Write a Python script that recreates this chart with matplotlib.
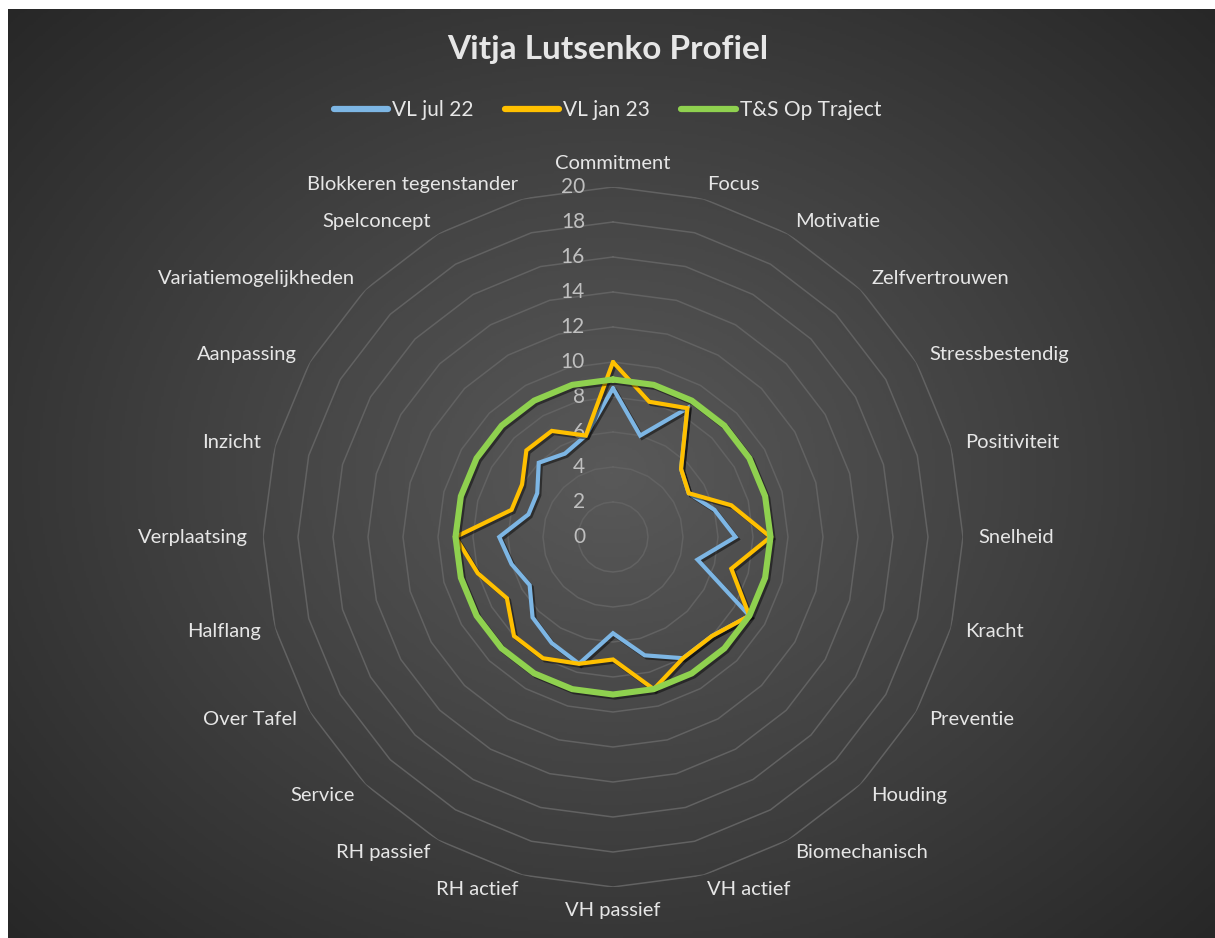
import numpy as np
import matplotlib
matplotlib.use('Agg')
import matplotlib.pyplot as plt
import matplotlib.patheffects as pe
from matplotlib.transforms import offset_copy

plt.rcParams['font.family'] = ['Lato', 'DejaVu Sans']

categories = ['Commitment', 'Focus', 'Motivatie', 'Zelfvertrouwen', 'Stressbestendig',
              'Positiviteit', 'Snelheid', 'Kracht', 'Preventie', 'Houding', 'Biomechanisch',
              'VH actief', 'VH passief', 'RH actief', 'RH passief', 'Service', 'Over Tafel',
              'Halflang', 'Verplaatsing', 'Inzicht', 'Aanpassing', 'Variatiemogelijkheden',
              'Spelconcept', 'Blokkeren tegenstander']

vl_jul_22 = [8.5, 6, 8.5, 5.5, 5, 6, 7, 5, 9, 8, 8, 7,
             5.5, 7.5, 7, 6.5, 5.5, 6, 6.5, 5, 5, 6, 5.5, 6]
vl_jan_23 = [10, 8, 8.5, 5.5, 5, 7, 9, 7, 9, 8, 8, 9,
             7, 7.5, 8, 8, 7, 8, 9, 6, 6, 7, 7, 6]
ts_traject = [9] * 24

series_names = ['VL jul 22', 'VL jan 23', 'T&S Op Traject']
series_colors = ['#7DB6E4', '#FFC000', '#8FD14F']
rings = list(range(0, 22, 2))

W, H = 1215, 938
fig = plt.figure(figsize=(W / 100, H / 100), dpi=100)
fig.patch.set_facecolor('white')

# dark radial background
bg = fig.add_axes([8 / W, 0, 1 - 8 / W, 1 - 9 / H])
yy, xx = np.mgrid[-1:1:400j, -1:1:520j]
dist = np.sqrt(xx ** 2 + (yy * 0.95) ** 2) / np.sqrt(2)
bg.imshow(dist, cmap=matplotlib.colors.LinearSegmentedColormap.from_list(
    'bg', ['#595959', '#404040', '#262626']), aspect='auto', vmin=0, vmax=1)
bg.set_axis_off()

cx, cy, R = 613, 537, 350
ax = fig.add_axes([(cx - R) / W, (H - cy - R) / H, 2 * R / W, 2 * R / H], projection='polar')
ax.set_facecolor('none')
ax.set_theta_zero_location('N')
ax.set_theta_direction(-1)
ax.set_ylim(0, 20)
ax.grid(False)
ax.spines['polar'].set_visible(False)
ax.set_xticks([])
ax.set_yticks([])

n = len(categories)
theta = np.linspace(0, 2 * np.pi, n, endpoint=False)
theta_c = np.append(theta, theta[0])

# polygon grid
for r in rings[1:]:
    ax.plot(theta_c, [r] * (n + 1), color='#626262', lw=1.1, zorder=1)

# ring labels
lab_tr = offset_copy(ax.transData, fig=fig, x=-28, y=0, units='dots')
for r in rings:
    ax.text(0, r, str(r), transform=lab_tr, ha='right', va='center',
            color='#bfbfbf', fontsize=15, zorder=2)

# category labels
for t, name in zip(theta, categories):
    deg = np.degrees(t)
    if deg == 0:
        ha, va = 'center', 'bottom'
    elif deg == 180:
        ha, va = 'center', 'top'
    elif deg < 180:
        ha, va = 'left', 'center'
    else:
        ha, va = 'right', 'center'
    ax.text(t, 20.85, name, ha=ha, va=va, color='#e6e6e6', fontsize=14.5)

shadow = [pe.SimpleLineShadow(offset=(1.5, -1.5), shadow_color='black', alpha=0.45), pe.Normal()]
for vals, name, col, lw in zip([vl_jul_22, vl_jan_23, ts_traject], series_names,
                               series_colors, [3.0, 3.0, 4.4]):
    ax.plot(theta_c, vals + vals[:1], color=col, lw=lw, label=name,
            solid_joinstyle='miter', solid_capstyle='round', path_effects=shadow, zorder=3)

leg = fig.legend(loc='center', bbox_to_anchor=(0.5, 1 - 110 / H), ncol=3, frameon=False,
                 fontsize=15, handlelength=2.6, columnspacing=1.5, handletextpad=0.2,
                 labelcolor='#e6e6e6')
for line in leg.get_lines():
    line.set_linewidth(4.5)
    line.set_solid_capstyle('round')
    line.set_path_effects([])

fig.text(0.5, 1 - 50 / H, 'Vitja Lutsenko Profiel', ha='center', va='center',
         fontsize=24, fontweight='bold', color='#e6e6e6')

fig.savefig('out.png', dpi=100, facecolor=fig.get_facecolor())
